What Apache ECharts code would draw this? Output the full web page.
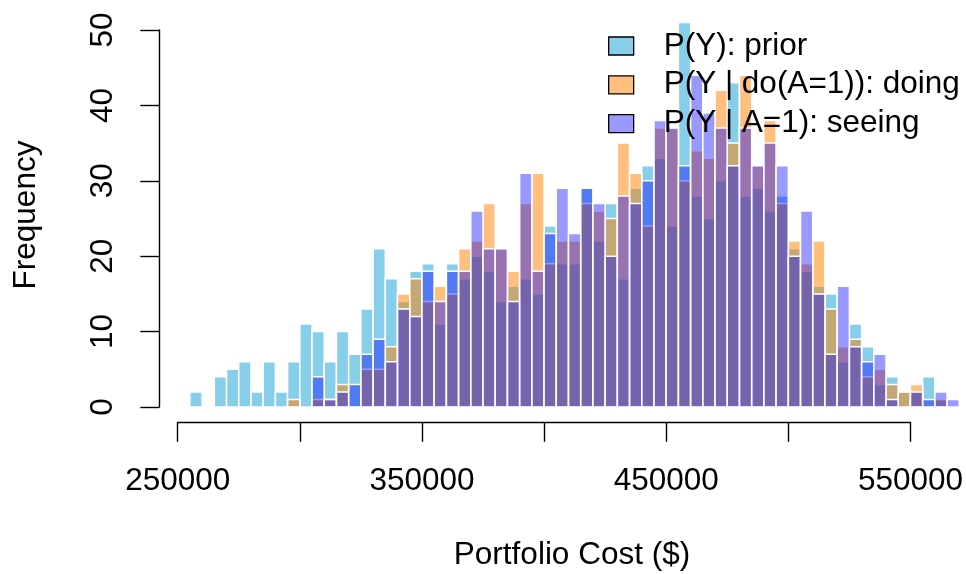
<!DOCTYPE html>
<html>
<head>
<meta charset="utf-8">
<title>Portfolio Cost histograms</title>
<script src="https://cdn.jsdelivr.net/npm/echarts@6/dist/echarts.min.js"></script>
<style>
  html, body { margin: 0; padding: 0; background: #ffffff; }
  #chart { width: 966px; height: 574px; }
</style>
</head>
<body>
<div id="chart"></div>
<script>
// Histogram bin edges (5000 $ wide)
const binBreaks = [
  255000, 260000, 265000, 270000, 275000, 280000, 285000, 290000, 295000, 300000,
  305000, 310000, 315000, 320000, 325000, 330000, 335000, 340000, 345000, 350000,
  355000, 360000, 365000, 370000, 375000, 380000, 385000, 390000, 395000, 400000,
  405000, 410000, 415000, 420000, 425000, 430000, 435000, 440000, 445000, 450000,
  455000, 460000, 465000, 470000, 475000, 480000, 485000, 490000, 495000, 500000,
  505000, 510000, 515000, 520000, 525000, 530000, 535000, 540000, 545000, 550000,
  555000, 560000, 565000, 570000
];

// Counts per bin
const priorCounts = [
  2, 0, 4, 5, 6, 2, 6, 2, 6, 11,
  10, 6, 10, 7, 13, 21, 17, 14, 18, 19,
  11, 19, 17, 20, 18, 14, 16, 17, 15, 24,
  19, 19, 29, 22, 27, 17, 29, 32, 33, 24,
  51, 28, 25, 30, 43, 28, 29, 26, 28, 21,
  18, 16, 15, 6, 11, 8, 3, 4, 2, 2,
  4, 1, 0
];
const doingCounts = [
  0, 0, 0, 0, 0, 0, 0, 0, 1, 0,
  1, 1, 3, 0, 5, 5, 8, 15, 17, 14,
  16, 15, 21, 22, 27, 21, 18, 27, 31, 19,
  22, 22, 27, 26, 25, 35, 31, 24, 37, 37,
  30, 34, 33, 42, 35, 44, 32, 38, 27, 22,
  19, 22, 13, 8, 9, 4, 5, 3, 2, 3,
  0, 1, 0
];
const seeingCounts = [
  0, 0, 0, 0, 0, 0, 0, 0, 0, 0,
  4, 1, 2, 3, 7, 9, 6, 13, 12, 18,
  14, 18, 18, 26, 21, 21, 14, 31, 18, 23,
  29, 23, 29, 27, 20, 28, 27, 30, 38, 37,
  32, 44, 39, 37, 32, 37, 32, 35, 32, 20,
  26, 15, 7, 16, 8, 6, 7, 1, 0, 2,
  1, 2, 1
];

const seriesNames = ['P(Y): prior', 'P(Y | do(A=1)): doing', 'P(Y | A=1): seeing'];
const seriesColors = ['#87CEEB', 'rgba(255,128,0,0.5)', 'rgba(0,0,255,0.4)'];

// Axis ticks and the labels that are printed
const xTicks = [250000, 300000, 350000, 400000, 450000, 500000, 550000];
const xTickLabels = ['250000', '350000', '450000', '550000'];
const yTicks = [0, 10, 20, 30, 40, 50];

const xTitle = 'Portfolio Cost ($)';
const yTitle = 'Frequency';

const FONT = '"Liberation Sans", Arial, Helvetica, sans-serif';
const FS = 31.5;
const INK = '#000000';

function binData(counts) {
  return counts.map((c, i) => [binBreaks[i], binBreaks[i + 1], c]);
}

// One rectangle per bin, white outline like a base-graphics histogram
function renderBin(params, api) {
  const count = api.value(2);
  if (!count) return { type: 'group', children: [] };
  const topLeft = api.coord([api.value(0), count]);
  const bottomRight = api.coord([api.value(1), 0]);
  return {
    type: 'rect',
    shape: {
      x: topLeft[0],
      y: topLeft[1],
      width: bottomRight[0] - topLeft[0],
      height: bottomRight[1] - topLeft[1]
    },
    style: { fill: api.visual('color'), stroke: '#ffffff', lineWidth: 1.5 }
  };
}

const allCounts = [priorCounts, doingCounts, seeingCounts];

const chart = echarts.init(document.getElementById('chart'), null, { renderer: 'canvas' });

chart.setOption({
  animation: false,
  backgroundColor: '#ffffff',
  grid: { left: 177.7, right: 55.5, top: 30, bottom: 167, containLabel: false },
  xAxis: {
    type: 'value',
    min: xTicks[0],
    max: xTicks[xTicks.length - 1],
    interval: xTicks[1] - xTicks[0],
    offset: 15.3,
    splitLine: { show: false },
    axisLine: { show: true, onZero: false, lineStyle: { color: INK, width: 1.4 } },
    axisTick: { show: true, length: 19.5, lineStyle: { color: INK, width: 1.4 } },
    axisLabel: {
      margin: 43,
      color: INK,
      fontSize: FS,
      fontFamily: FONT,
      formatter: v => (xTickLabels.indexOf(String(v)) >= 0 ? String(v) : '')
    }
  },
  yAxis: {
    type: 'value',
    min: yTicks[0],
    max: yTicks[yTicks.length - 1],
    interval: yTicks[1] - yTicks[0],
    offset: 18.4,
    splitLine: { show: false },
    axisLine: { show: true, onZero: false, lineStyle: { color: INK, width: 1.4 } },
    axisTick: { show: true, length: 19, lineStyle: { color: INK, width: 1.4 } },
    axisLabel: {
      rotate: 90,
      margin: 40,
      color: INK,
      fontSize: FS,
      fontFamily: FONT
    }
  },
  legend: {
    orient: 'vertical',
    left: 608,
    top: 30,
    padding: 0,
    itemWidth: 25,
    itemHeight: 18,
    itemGap: 6.8,
    icon: 'rect',
    selectedMode: false,
    itemStyle: { borderColor: INK, borderWidth: 1.3 },
    textStyle: { color: INK, fontSize: FS, fontFamily: FONT, padding: [0, 0, 0, 25] },
    data: seriesNames
  },
  graphic: [
    {
      type: 'text',
      x: 572,
      y: 555,
      style: { text: xTitle, fill: INK, font: FS + 'px ' + FONT, align: 'center', verticalAlign: 'middle' }
    },
    {
      type: 'text',
      x: 26,
      y: 215,
      rotation: Math.PI / 2,
      style: { text: yTitle, fill: INK, font: FS + 'px ' + FONT, align: 'center', verticalAlign: 'middle' }
    }
  ],
  series: allCounts.map((counts, k) => ({
    type: 'custom',
    name: seriesNames[k],
    clip: false,
    itemStyle: { color: seriesColors[k] },
    encode: { x: [0, 1], y: 2 },
    renderItem: renderBin,
    data: binData(counts)
  }))
});
</script>
</body>
</html>
